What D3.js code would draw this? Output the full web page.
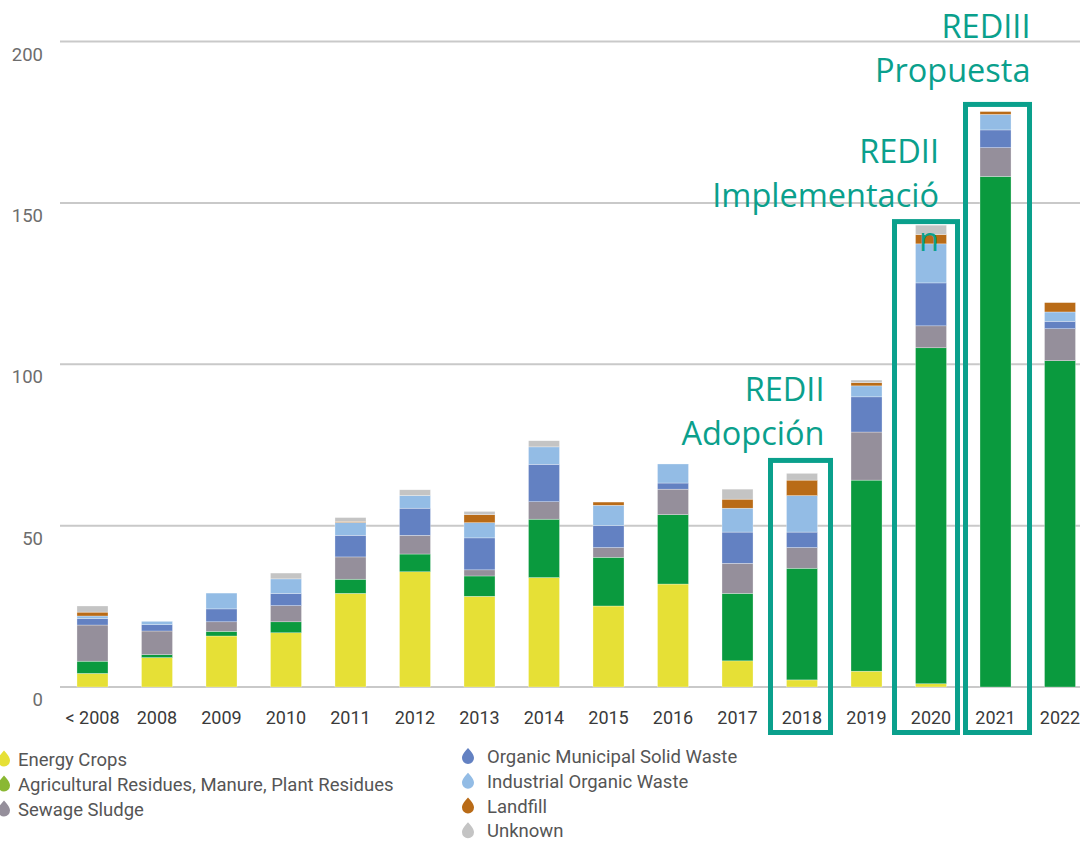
<!DOCTYPE html>
<html>
<head>
<meta charset="utf-8">
<script src="https://cdn.jsdelivr.net/npm/d3@7"></script>
<style>
  html, body { margin: 0; padding: 0; background: #fff; }
  svg { display: block; }
</style>
</head>
<body>
<svg id="chart" width="1080" height="842"></svg>
<script>
// ---- data ----
const categories = ["< 2008","2008","2009","2010","2011","2012","2013","2014","2015","2016","2017","2018","2019","2020","2021","2022"];
const energyCrops  = [4.2, 9.1, 15.8, 16.8, 29.0, 35.7, 28.1, 33.9, 25.1, 31.9, 8.1, 2.2, 4.9, 1.0, 0, 0];
const agricultural = [3.8, 0.9, 1.45, 3.4, 4.4, 5.5, 6.3, 18.1, 15.1, 21.5, 20.9, 34.6, 59.2, 104.1, 158.2, 101.1];
const sewage       = [11.2, 7.35, 2.95, 5.0, 6.9, 5.8, 1.9, 5.4, 3.0, 7.9, 9.3, 6.4, 14.9, 6.8, 8.9, 9.9];
const omsw         = [2.0, 1.95, 4.0, 3.8, 6.7, 8.4, 9.9, 11.6, 6.8, 1.9, 9.7, 4.8, 10.9, 13.3, 5.5, 2.3];
const industrial   = [0.8, 1.05, 4.9, 4.5, 4.0, 3.9, 4.7, 5.4, 6.3, 5.9, 7.4, 11.3, 3.4, 12.1, 4.8, 2.9];
const landfill     = [1.2, 0, 0, 0, 0.3, 0, 2.5, 0, 1.0, 0, 2.8, 4.8, 1.0, 2.9, 0.9, 2.9];
const unknown      = [1.9, 0, 0, 1.8, 1.2, 1.8, 1.0, 1.9, 0, 0, 3.1, 2.1, 0.8, 2.9, 0, 0];

const seriesNames = ["Energy Crops","Agricultural Residues, Manure, Plant Residues","Sewage Sludge",
  "Organic Municipal Solid Waste","Industrial Organic Waste","Landfill","Unknown"];
const seriesValues = [energyCrops, agricultural, sewage, omsw, industrial, landfill, unknown];
const barColors    = ["#e6e036","#0a9a3e","#958f9b","#6381c2","#93bce5","#b96b17","#c4c4c4"];
const legendColors = ["#e6e036","#8ab833","#958f9b","#6381c2","#93bce5","#b96b17","#c4c4c4"];
const yTicks = [0, 50, 100, 150, 200];

// annotations: category, top value of frame, text lines
const annCats  = ["2018", "2020", "2021"];
const annTops  = [70.2, 144.2, 180.5];
const annLines = [["REDII","Adopción"], ["REDII","Implementació","n"], ["REDIII","Propuesta"]];
const annDx    = [-1.5, -5, 2];
const annW     = [60, 63, 64];
const annTextDx = [24, 13, 33];
const annTextTop = [401, 163, 38];

// ---- layout ----
const svg = d3.select("#chart");
const x = d3.scaleBand().domain(categories).range([43.5, 1109]).paddingInner(0.519).paddingOuter(0.519);
const y = d3.scaleLinear().domain([0, 200]).range([687, 41.5]);

// gridlines
svg.append("g").selectAll("line").data(yTicks).join("line")
  .attr("x1", 60).attr("x2", 1080)
  .attr("y1", d => y(d)).attr("y2", d => y(d))
  .attr("stroke", "#c9c9c9").attr("stroke-width", 2);

// y labels
svg.append("g").selectAll("text").data(yTicks).join("text")
  .attr("x", 43).attr("y", d => y(d) + 19)
  .attr("text-anchor", "end")
  .attr("font-family", "Roboto, sans-serif").attr("font-size", 18.5)
  .attr("fill", "#6d6d6d")
  .text(d => d);

// stacked bars
const rows = categories.map((c, i) => {
  const r = { cat: c };
  seriesNames.forEach((s, k) => r[s] = seriesValues[k][i]);
  return r;
});
const stacked = d3.stack().keys(seriesNames)(rows);
svg.append("g").selectAll("g").data(stacked).join("g")
  .attr("fill", (d, i) => barColors[i])
  .selectAll("rect").data(d => d.filter(p => p[1] - p[0] > 0)).join("rect")
  .attr("x", d => x(d.data.cat))
  .attr("width", x.bandwidth())
  .attr("y", d => y(d[1]))
  .attr("height", d => y(d[0]) - y(d[1]))
  .attr("stroke", "#ffffff").attr("stroke-width", 0.5).attr("stroke-opacity", 0.6);

// x labels
svg.append("g").selectAll("text").data(categories).join("text")
  .attr("x", d => x(d) + x.bandwidth() / 2)
  .attr("y", 724)
  .attr("text-anchor", "middle")
  .attr("font-family", "Roboto, sans-serif").attr("font-size", 18)
  .attr("fill", "#3a3a3a")
  .text(d => d);

// annotation frames
const teal = "#0aa08c";
const ann = svg.append("g");
annCats.forEach((c, i) => {
  const cx = x(c) + x.bandwidth() / 2 + annDx[i];
  const top = y(annTops[i]);
  const bottom = y(0) + 45.5;
  ann.append("rect")
    .attr("x", cx - annW[i] / 2).attr("y", top)
    .attr("width", annW[i]).attr("height", bottom - top)
    .attr("fill", "none").attr("stroke", teal).attr("stroke-width", 5);
  const right = cx + annTextDx[i];
  annLines[i].forEach((t, j) => {
    ann.append("text")
      .attr("x", right).attr("y", annTextTop[i] + j * 44)
      .attr("text-anchor", "end")
      .attr("font-family", "'Open Sans', sans-serif").attr("font-size", 32.5)
      .attr("fill", teal)
      .text(t);
  });
});

// legend
const drop = "M0,-8 C3,-4.5 6,-1.5 6,2 A6,6 0 0 1 -6,2 C-6,-1.5 -3,-4.5 0,-8 Z";
const legendPos = [
  {mx: 4, tx: 18, by: 765.5}, {mx: 4, tx: 18, by: 790.5}, {mx: 4, tx: 18, by: 815.5},
  {mx: 468, tx: 487, by: 763}, {mx: 468, tx: 487, by: 787.8}, {mx: 468, tx: 487, by: 812.5}, {mx: 468, tx: 487, by: 837.2}
];
const lg = svg.append("g");
seriesNames.forEach((s, i) => {
  const p = legendPos[i];
  lg.append("path").attr("d", drop)
    .attr("transform", `translate(${p.mx},${p.by - 7})`)
    .attr("fill", legendColors[i]);
  lg.append("text").attr("x", p.tx).attr("y", p.by)
    .attr("font-family", "Roboto, sans-serif").attr("font-size", 18.5)
    .attr("fill", "#555555")
    .text(s);
});
</script>
</body>
</html>
